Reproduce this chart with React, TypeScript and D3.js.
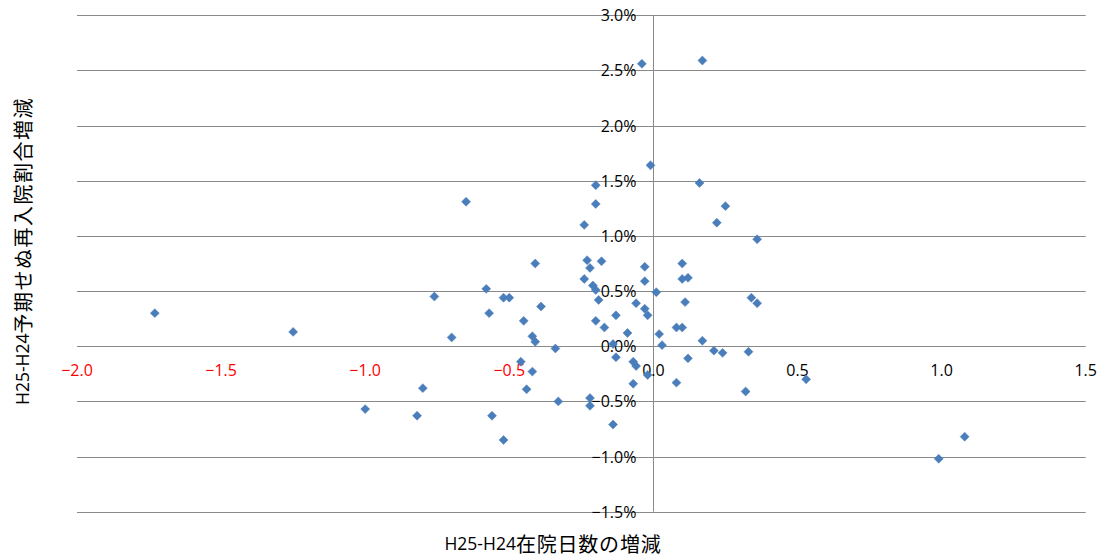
import React from "react";
import * as d3 from "d3";

// Change in average length of stay (days), H25 vs H24
const losChange: number[] = [
  -1.73, -1.25, -1.0, -0.82, -0.8, -0.76, -0.7, -0.65, -0.58, -0.57,
  -0.56, -0.52, -0.5, -0.52, -0.46, -0.45, -0.44, -0.42, -0.42, -0.41,
  -0.41, -0.39, -0.34, -0.33, -0.24, -0.24, -0.23, -0.22, -0.22, -0.22,
  -0.21, -0.2, -0.2, -0.2, -0.2, -0.19, -0.18, -0.17, -0.14, -0.14,
  -0.13, -0.13, -0.09, -0.07, -0.07, -0.06, -0.06, -0.04, -0.03, -0.02,
  -0.03, -0.03, -0.02, -0.01, 0.01, 0.02, 0.03, 0.08, 0.08, 0.1,
  0.1, 0.1, 0.12, 0.11, 0.12, 0.16, 0.17, 0.17, 0.21, 0.22,
  0.24, 0.25, 0.32, 0.33, 0.34, 0.36, 0.36, 0.53, 0.99, 1.08,
];

// Change in unplanned readmission rate (%), H25 vs H24
const readmitChange: number[] = [
  0.3, 0.13, -0.57, -0.63, -0.38, 0.45, 0.08, 1.31, 0.52, 0.3,
  -0.63, 0.44, 0.44, -0.85, -0.14, 0.23, -0.39, 0.09, -0.23, 0.75,
  0.04, 0.36, -0.02, -0.5, 0.61, 1.1, 0.78, 0.71, -0.47, -0.54,
  0.55, 0.51, 0.23, 1.46, 1.29, 0.42, 0.77, 0.17, -0.71, 0.02,
  0.28, -0.1, 0.12, -0.34, -0.14, -0.18, 0.39, 2.56, 0.34, 0.28,
  0.72, 0.59, -0.26, 1.64, 0.49, 0.11, 0.01, -0.33, 0.17, 0.17,
  0.75, 0.61, 0.62, 0.4, -0.11, 1.48, 2.59, 0.05, -0.04, 1.12,
  -0.06, 1.27, -0.41, -0.05, 0.44, 0.39, 0.97, -0.3, -1.02, -0.82,
];

const xTickValues: number[] = [-2.0, -1.5, -1.0, -0.5, 0.0, 0.5, 1.0, 1.5];
const yTickValues: number[] = [-1.5, -1.0, -0.5, 0.0, 0.5, 1.0, 1.5, 2.0, 2.5, 3.0];

const xTitleLatin = "H25-H24";
const xTitleCjk = "在院日数の増減";
const yTitleLatin = "H25-H24";
const yTitleCjk = "予期せぬ再入院割合増減";

const W = 1102;
const H = 556;
const M = { left: 77, right: 16.3, top: 15.3, bottom: 44.3 };

const LATIN = "'Open Sans', 'Noto Sans', sans-serif";
const CJK = "'Noto Sans CJK JP', 'Open Sans', sans-serif";
const GRID = "#898989";
const MARK = "#4A7EBB";

export default function App() {
  const x = d3.scaleLinear().domain([-2, 1.5]).range([M.left, W - M.right]);
  const y = d3.scaleLinear().domain([-1.5, 3.0]).range([H - M.bottom, M.top]);
  const diamond = d3.symbol(d3.symbolSquare, 40)() as string;
  const fmtX = d3.format(".1f");
  const fmtY = (v: number) => d3.format(".1f")(v) + "%";
  const x0 = Math.round(x(0)) + 0.5;

  const points = losChange.map((v, i) => ({ x: v, y: readmitChange[i] }));

  return (
    <svg
      width={W}
      height={H}
      style={{ position: "absolute", left: 0, top: 0, background: "#fff" }}
    >
      {/* horizontal gridlines */}
      {yTickValues.map((t) => {
        const yy = Math.round(y(t)) + 0.5;
        return (
          <line key={"g" + t} x1={x(-2)} x2={x(1.5)} y1={yy} y2={yy} stroke={GRID} strokeWidth={1} />
        );
      })}
      {/* vertical axis line at x = 0 */}
      <line x1={x0} x2={x0} y1={y(3)} y2={y(-1.5)} stroke={GRID} strokeWidth={1} />

      {/* y tick labels */}
      {yTickValues.map((t) => (
        <text
          key={"yl" + t}
          x={x(0) - 17}
          y={y(t)}
          textAnchor="end"
          dominantBaseline="central"
          fontFamily={LATIN}
          fontSize={16}
          fill="#000"
        >
          {fmtY(t)}
        </text>
      ))}

      {/* x tick labels */}
      {xTickValues.map((t) => (
        <text
          key={"xl" + t}
          x={x(t)}
          y={y(0) + 24}
          textAnchor="middle"
          dominantBaseline="central"
          fontFamily={LATIN}
          fontSize={16}
          fill={t < 0 ? "#FF0000" : "#000"}
        >
          {fmtX(t)}
        </text>
      ))}

      {/* points */}
      {points.map((p, i) => (
        <path
          key={"p" + i}
          d={diamond}
          transform={`translate(${x(p.x)},${y(p.y)}) rotate(45)`}
          fill={MARK}
          stroke={MARK}
          strokeWidth={0.5}
        />
      ))}

      {/* x axis title */}
      <text x={553} y={543} textAnchor="middle" dominantBaseline="central" fill="#000">
        <tspan fontFamily={LATIN} fontSize={17.5}>{xTitleLatin}</tspan>
        <tspan fontFamily={CJK} fontSize={20} letterSpacing={0.8}>{xTitleCjk}</tspan>
      </text>

      {/* y axis title */}
      <text
        transform={`translate(22,251) rotate(-90)`}
        textAnchor="middle"
        dominantBaseline="central"
        fill="#000"
      >
        <tspan fontFamily={LATIN} fontSize={17.5}>{yTitleLatin}</tspan>
        <tspan fontFamily={CJK} fontSize={20} letterSpacing={1.5}>{yTitleCjk}</tspan>
      </text>
    </svg>
  );
}
